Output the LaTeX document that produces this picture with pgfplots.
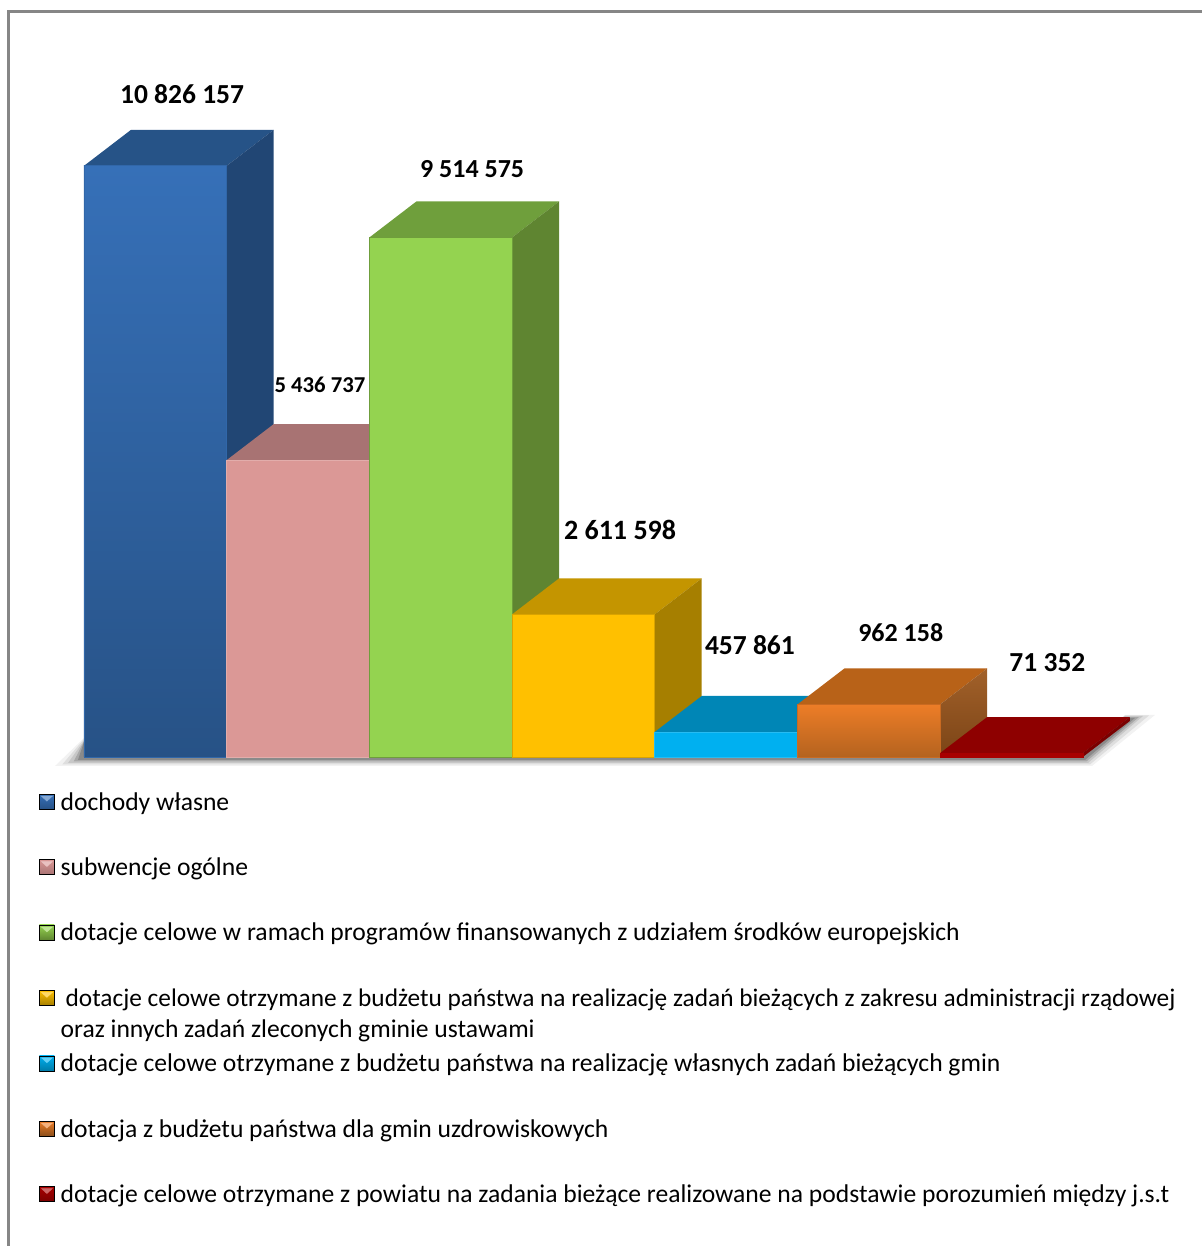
\documentclass[border=0pt]{standalone}
\usepackage{pgfplots}
\pgfplotsset{compat=1.18}
\usepackage{fontspec}
\setmainfont{Carlito}
\definecolor{blueT}{HTML}{3670B8}\definecolor{blueB}{HTML}{275286}\definecolor{blueS}{HTML}{214674}\definecolor{blueU}{HTML}{265387}
\definecolor{pinkF}{HTML}{DB9896}\definecolor{pinkU}{HTML}{A87373}\definecolor{pinkS}{HTML}{946565}
\definecolor{greenF}{HTML}{94D350}\definecolor{greenU}{HTML}{6F9F3C}\definecolor{greenS}{HTML}{5F8531}
\definecolor{yelF}{HTML}{FFC000}\definecolor{yelU}{HTML}{C49500}\definecolor{yelS}{HTML}{A67F00}
\definecolor{cyanF}{HTML}{00B0F0}\definecolor{cyanU}{HTML}{0086B6}\definecolor{cyanS}{HTML}{007BA8}
\definecolor{orT}{HTML}{ED7D27}\definecolor{orB}{HTML}{B4631F}\definecolor{orU}{HTML}{B86218}\definecolor{orS}{HTML}{8A4E1A}\definecolor{orST}{HTML}{A2612A}\definecolor{orSB}{HTML}{7B4416}
\definecolor{redF}{HTML}{A80000}\definecolor{redU}{HTML}{8E0000}\definecolor{redS}{HTML}{7A0000}
\definecolor{frameC}{HTML}{868686}
\newcommand{\lm}[3]{\addlegendimage{legend image code/.code={
  \path[top color=#2,bottom color=#1] (0pt,-6pt) rectangle (15pt,9pt);
  \fill[#3] (2pt,7pt) -- (13pt,7pt) -- (7.5pt,2pt) -- cycle;
}}}
\newcommand{\lab}[4]{\node[anchor=base,inner sep=0pt,font=\bfseries\fontsize{#3}{#3}\selectfont] at (axis cs:#1,#2) {#4};}
\begin{document}
\begin{tikzpicture}
\begin{axis}[
  scale only axis, width=1204pt, height=1247pt,
  axis lines=none, ticks=none,
  xmin=-1.0883, xmax=7.349, ymin=-8974359, ymax=13864469,
  clip=false,
  legend style={at={(0.0324,0.3665)},anchor=north west,draw=none,fill=none,inner sep=0pt,
    row sep=39.4pt,column sep=6pt,font=\fontsize{25.6}{31}\selectfont,
    nodes={inner sep=0pt,text height=20pt,text depth=6pt}},
  legend cell align=left,
]
\path (rel axis cs:0,0) rectangle (rel axis cs:1,1);
% frame
\addplot[forget plot,frameC,line width=2.7pt] coordinates {(-1.0273,-8950000) (-1.0273,13657000) (7.335,13657000)};
% floor shadow
\addplot[forget plot,fill=black!5,draw=none] coordinates {(-0.7029,-164835) (6.5642,-164835) (7.0056,769231) (6.7954,769231) (6.5,128205) (-0.4996,128205) (-0.4996,347985)} --cycle;
\addplot[forget plot,fill=black!13,draw=none] coordinates {(-0.6518,-137000) (6.5502,-137000) (6.9635,760000) (6.7954,760000) (6.5,128205) (-0.4996,128205) (-0.4996,330000)} --cycle;
\addplot[forget plot,fill=black!22,draw=none] coordinates {(-0.6118,-109890) (6.5362,-109890) (6.9215,750916) (6.7954,750916) (6.5,128205) (-0.4996,128205) (-0.4996,300000)} --cycle;
\addplot[forget plot,fill=black!34,draw=none] coordinates {(-0.5717,-82000) (6.5251,-82000) (6.8935,732000) (6.7954,732000) (6.5,128205) (-0.4996,128205) (-0.4996,287000)} --cycle;
\addplot[forget plot,fill=black!46,draw=none] coordinates {(-0.5417,-54945) (6.5151,-54945) (6.8655,714286) (6.7954,714286) (6.479,36630) (-0.4996,36630) (-0.4996,274725)} --cycle;
% bar 0
\addplot[forget plot,fill=blueU,draw=none] coordinates {(-0.5,10826157) (0.5,10826157) (0.8294,11485498) (-0.1706,11485498)} --cycle;
\addplot[forget plot,fill=blueS,draw=none] coordinates {(0.5,0) (0.5,10826157) (0.8294,11485498) (0.8294,659341)} --cycle;
\addplot[forget plot,ybar,bar width=1,bar shift=0pt,draw=blueT!70!blueB,line width=0.8pt,top color=blueT,bottom color=blueB] coordinates {(0,10826157)};
% bar 1
\addplot[forget plot,fill=pinkU,draw=none] coordinates {(0.5,5436737) (1.5,5436737) (1.8294,6096078) (0.8294,6096078)} --cycle;
\addplot[forget plot,fill=pinkS,draw=none] coordinates {(1.5,0) (1.5,5436737) (1.8294,6096078) (1.8294,659341)} --cycle;
\addplot[forget plot,ybar,bar width=1,bar shift=0pt,draw=pinkF!80!white,line width=0.8pt,fill=pinkF] coordinates {(1,5436737)};
% bar 2
\addplot[forget plot,fill=greenU,draw=none] coordinates {(1.5,9514575) (2.5,9514575) (2.8294,10173916) (1.8294,10173916)} --cycle;
\addplot[forget plot,fill=greenS,draw=none] coordinates {(2.5,0) (2.5,9514575) (2.8294,10173916) (2.8294,659341)} --cycle;
\addplot[forget plot,ybar,bar width=1,bar shift=0pt,draw=greenF!75!black,line width=0.8pt,fill=greenF] coordinates {(2,9514575)};
% bar 3
\addplot[forget plot,fill=yelU,draw=none] coordinates {(2.5,2611598) (3.5,2611598) (3.8294,3270939) (2.8294,3270939)} --cycle;
\addplot[forget plot,fill=yelS,draw=none] coordinates {(3.5,0) (3.5,2611598) (3.8294,3270939) (3.8294,659341)} --cycle;
\addplot[forget plot,ybar,bar width=1,bar shift=0pt,draw=yelF!85!black,line width=0.8pt,fill=yelF] coordinates {(3,2611598)};
% bar 4
\addplot[forget plot,fill=cyanU,draw=none] coordinates {(3.5,457861) (4.5,457861) (4.8294,1117202) (3.8294,1117202)} --cycle;
\addplot[forget plot,fill=cyanS,draw=none] coordinates {(4.5,0) (4.5,457861) (4.8294,1117202) (4.8294,659341)} --cycle;
\addplot[forget plot,ybar,bar width=1,bar shift=0pt,draw=cyanF!85!white,line width=0.8pt,fill=cyanF] coordinates {(4,457861)};
% bar 5
\addplot[forget plot,fill=orU,draw=none] coordinates {(4.5,962158) (5.5,962158) (5.8294,1621499) (4.8294,1621499)} --cycle;
\addplot[forget plot,top color=orST,bottom color=orSB,draw=none] coordinates {(5.5,0) (5.5,962158) (5.8294,1621499) (5.8294,659341)} --cycle;
\addplot[forget plot,ybar,bar width=1,bar shift=0pt,draw=orT!85!black,line width=0.8pt,top color=orT,bottom color=orB] coordinates {(5,962158)};
% bar 6
\addplot[forget plot,fill=redU,draw=none] coordinates {(5.5,71352) (6.5,71352) (6.8294,730693) (5.8294,730693)} --cycle;
\addplot[forget plot,fill=redS,draw=none] coordinates {(6.5,0) (6.5,71352) (6.8294,730693) (6.8294,659341)} --cycle;
\addplot[forget plot,ybar,bar width=1,bar shift=0pt,draw=redF,line width=0.4pt,fill=redF] coordinates {(6,71352)};
% value labels
\lab{0.1878}{11963000}{27.5}{10 826 157}
\lab{2.2200}{10622000}{26}{9 514 575}
\lab{1.1540}{6673000}{22.7}{5 436 737}
\lab{3.2570}{3989000}{28}{2 611 598}
\lab{4.1670}{1886000}{27.5}{457 861}
\lab{5.2240}{2124000}{26}{962 158}
\lab{6.2520}{1557000}{27.5}{71 352}
% legend
\lm{blueB}{blueT}{blueT!60!white}\addlegendentry{dochody własne}
\lm{pinkU}{pinkF}{pinkF!60!white}\addlegendentry{subwencje ogólne}
\lm{greenS}{greenF}{greenF!60!white}\addlegendentry{dotacje celowe w ramach programów finansowanych z udziałem środków europejskich}
\lm{yelS}{yelF}{yelF!60!white}\addlegendentry{\smash{\begin{tabular}[t]{@{}l@{}}\hspace{5pt}\fontsize{25.35}{31}\selectfont dotacje celowe otrzymane z budżetu państwa na realizację zadań bieżących z zakresu administracji rządowej\\oraz innych zadań zleconych gminie ustawami\end{tabular}}}
\lm{cyanS}{cyanF}{cyanF!60!white}\addlegendentry{dotacje celowe otrzymane z budżetu państwa na realizację własnych zadań bieżących gmin}
\lm{orS}{orT}{orT!60!white}\addlegendentry{dotacja z budżetu państwa dla gmin uzdrowiskowych}
\lm{redS}{redF}{redF!60!white}\addlegendentry{dotacje celowe otrzymane z powiatu na zadania bieżące realizowane na podstawie porozumień między j.s.t}
\end{axis}
\end{tikzpicture}
\end{document}
